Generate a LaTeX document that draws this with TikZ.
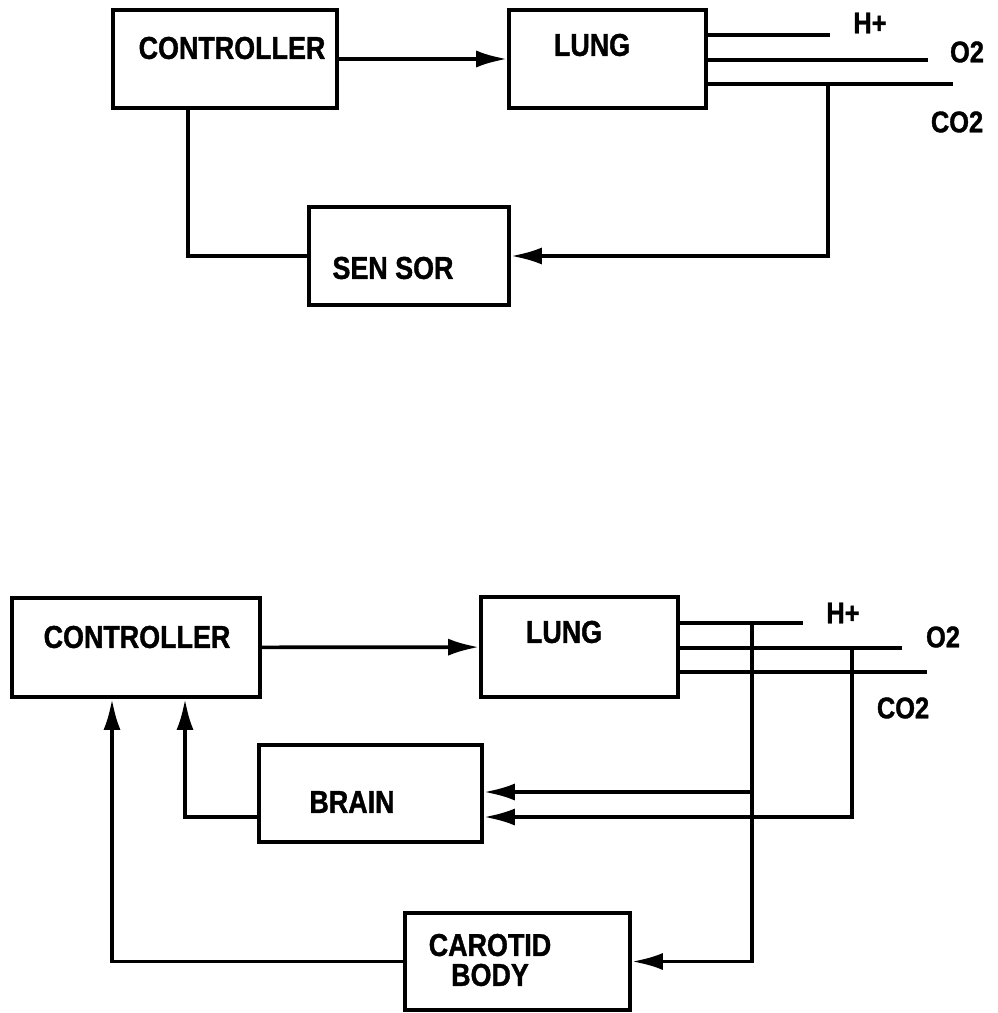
\documentclass[tikz,border=0pt]{standalone}
\usepackage{fontspec}
\setmainfont{Liberation Sans}[FakeStretch=0.85, BoldFeatures={FakeBold=1.2}]
\usetikzlibrary{arrows.meta}

\begin{document}
\begin{tikzpicture}[x=0.02cm, y=-0.02cm, line width=2.1pt,
    blk/.style={draw, line width=2.1pt, inner sep=0pt},
    txt/.style={font=\fontsize{18}{17}\selectfont\bfseries, inner sep=0pt},
    gas/.style={font=\fontsize{17}{17}\selectfont\bfseries, inner sep=0pt},
    arr/.style={-{Latex[length=0.62cm, width=0.34cm]}}]
    \useasboundingbox (0,0) rectangle (997,1013);
    % top loop: boxes
    \node[blk, minimum width=4.48cm, minimum height=1.96cm] at (225,59) (ctrlA) {};
    \node[txt] at (232,48) (ctrlAt) {CONTROLLER};
    \node[blk, minimum width=3.94cm, minimum height=1.96cm] at (607.5,59) (lungA) {};
    \node[txt] at (592,45) (lungAt) {LUNG};
    \node[blk, minimum width=4.0cm, minimum height=1.96cm] at (409,256) (sensorA) {};
    \node[txt] at (393,268) (sensorAt) {SEN SOR};
    % top loop: gases
    \coordinate (hA) at (830,35); \coordinate (oA) at (928,60); \coordinate (cA) at (953,84);
    \draw (lungA.east |- hA) -- (hA);
    \draw (lungA.east |- oA) -- (oA);
    \draw (lungA.east |- cA) -- (cA);
    \node[gas] at (870,23) (hAl) {H+};
    \node[gas] at (967,52) (oAl) {O2};
    \node[gas] at (957,122) (cAl) {CO2};
    % top loop: connectors
    \coordinate (jA) at (828,84); \coordinate (kA) at (188,0);
    \draw[arr] (ctrlA) -- (lungA);
    \draw[arr] (jA) |- (sensorA);
    \draw (ctrlA.south -| kA) |- (sensorA);

    % bottom loop: boxes
    \node[blk, minimum width=4.96cm, minimum height=1.98cm] at (136,647.5) (ctrlB) {};
    \node[txt] at (137,637) (ctrlBt) {CONTROLLER};
    \node[blk, minimum width=3.94cm, minimum height=2.0cm] at (579.5,647) (lungB) {};
    \node[txt] at (564,632) (lungBt) {LUNG};
    \node[blk, minimum width=4.46cm, minimum height=1.94cm] at (370.5,793.5) (brainB) {};
    \node[txt] at (352,802) (brainBt) {BRAIN};
    \node[blk, minimum width=4.5cm, minimum height=1.94cm] at (517.5,961.5) (carB) {};
    \node[txt, align=center] at (490,960) (carBt) {CAROTID\\BODY};
    % bottom loop: gases
    \coordinate (hB) at (803,623); \coordinate (oB) at (902,648); \coordinate (cB) at (927,672);
    \draw (lungB.east |- hB) -- (hB);
    \draw (lungB.east |- oB) -- (oB);
    \draw (lungB.east |- cB) -- (cB);
    \node[gas] at (843,613) (hBl) {H+};
    \node[gas] at (943,637) (oBl) {O2};
    \node[gas] at (903,708) (cBl) {CO2};
    % bottom loop: connectors
    \coordinate (jH) at (752,623); \coordinate (bH) at (752,792);
    \coordinate (jO) at (852,648); \coordinate (bO) at (852,817);
    \coordinate (kB) at (185,0); \coordinate (kC) at (112,0);
    \draw[arr] (ctrlB) -- (lungB);
    \draw[arr] (jH) |- (carB);
    \draw[arr] (bH) -- (brainB.east |- bH);
    \draw[arr] (jO) -- (bO) -- (brainB.east |- bO);
    \draw[arr] (brainB.west |- bO) -| (ctrlB.south -| kB);
    \draw[arr] (carB) -| (ctrlB.south -| kC);
\end{tikzpicture}
\end{document}
